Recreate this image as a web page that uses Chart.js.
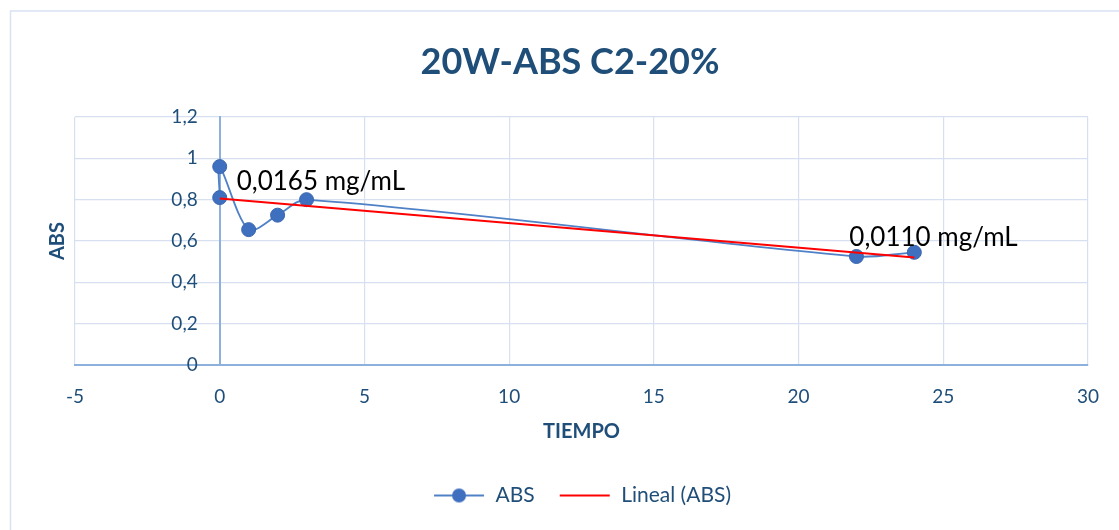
<!DOCTYPE html>
<html>
<head>
<meta charset="utf-8">
<script src="https://cdn.jsdelivr.net/npm/chart.js@4/dist/chart.umd.min.js"></script>
<style>
  html, body { margin: 0; padding: 0; background: #ffffff; }
  #wrap { width: 1119px; height: 530px; position: relative; }
</style>
</head>
<body>
<div id="wrap"><canvas id="c" width="1119" height="530"></canvas></div>
<script>
// ---- data ----
const tiempo = [0, 0, 1, 2, 3, 22, 24];
const abs = [0.81, 0.96, 0.655, 0.725, 0.80, 0.525, 0.545];
const pointLabels = ['0,0165 mg/mL', '', '', '', '', '', '0,0110 mg/mL'];
const xTicks = [-5, 0, 5, 10, 15, 20, 25, 30];
const xTickLabels = ['-5', '0', '5', '10', '15', '20', '25', '30'];
const yTicks = [0, 0.2, 0.4, 0.6, 0.8, 1.0, 1.2];
const yTickLabels = ['0', '0,2', '0,4', '0,6', '0,8', '1', '1,2'];
const chartTitle = '20W-ABS C2-20%';
const xTitle = 'TIEMPO';
const yTitle = 'ABS';
const seriesName = 'ABS';
const trendName = 'Lineal (ABS)';

// linear trendline (least squares over the series, like Excel "Lineal")
const n = tiempo.length;
const mx = tiempo.reduce((a, b) => a + b, 0) / n;
const my = abs.reduce((a, b) => a + b, 0) / n;
let sxy = 0, sxx = 0;
for (let i = 0; i < n; i++) { sxy += (tiempo[i] - mx) * (abs[i] - my); sxx += (tiempo[i] - mx) ** 2; }
const slope = sxy / sxx, intercept = my - slope * mx;
const trendX = [Math.min(...tiempo), Math.max(...tiempo)];
const trendY = trendX.map(x => intercept + slope * x);

const TXT = '#1F4E79';
const FONT = 'Lato, "Open Sans", sans-serif';
const GRID = '#d6e0f0';
const AXIS = '#8eb0dc';
const LINE = '#4f81c7';
const MARK = '#3f70bf';

// legend marker images
function legendImg(withDot, color) {
  const cv = document.createElement('canvas');
  cv.width = 52; cv.height = 16;
  const g = cv.getContext('2d');
  g.strokeStyle = color; g.lineWidth = withDot ? 1.8 : 2;
  g.beginPath(); g.moveTo(1, 8); g.lineTo(51, 8); g.stroke();
  if (withDot) { g.fillStyle = MARK; g.beginPath(); g.arc(26, 8, 7, 0, Math.PI * 2); g.fill(); }
  return cv;
}
const imgABS = legendImg(true, LINE);
const imgTrend = legendImg(false, '#ff0000');

const framePlugin = {
  id: 'frame',
  beforeDraw(chart) {
    const ctx = chart.ctx;
    ctx.save();
    ctx.fillStyle = '#fff'; ctx.fillRect(0, 0, chart.width, chart.height);
    ctx.strokeStyle = '#d9e2f3'; ctx.lineWidth = 1.5;
    ctx.strokeRect(10.5, 11, 1300, 700);
    ctx.restore();
  },
  afterDraw(chart) {
    const ctx = chart.ctx, ca = chart.chartArea;
    const ys = chart.scales.y, xs = chart.scales.x;
    ctx.save();
    ctx.fillStyle = TXT;
    // y tick labels, right-aligned next to the y axis (crossing at x = 0)
    ctx.font = '19px ' + FONT;
    ctx.textAlign = 'right'; ctx.textBaseline = 'middle';
    const ax = xs.getPixelForValue(0);
    yTicks.forEach((v, i) => ctx.fillText(yTickLabels[i], ax - 22, ys.getPixelForValue(v)));
    // titles
    ctx.textAlign = 'center';
    ctx.font = 'bold 36px ' + FONT;
    ctx.fillText(chartTitle, 570, 62);
    ctx.font = 'bold 20px ' + FONT;
    ctx.fillText(xTitle, (ca.left + ca.right) / 2, 432);
    ctx.translate(58, (ca.top + ca.bottom) / 2);
    ctx.rotate(-Math.PI / 2);
    ctx.fillText(yTitle, 0, 0);
    ctx.restore();
  },
  afterDatasetsDraw(chart) {
    const ctx = chart.ctx;
    const meta = chart.getDatasetMeta(0);
    ctx.save();
    ctx.fillStyle = '#000';
    ctx.font = '26px ' + FONT;
    ctx.textBaseline = 'middle';
    ctx.textAlign = 'left';
    pointLabels.forEach((t, i) => {
      if (!t) return;
      const p = meta.data[i];
      if (i === 0) ctx.fillText(t, p.x + 17, p.y - 16);
      else ctx.fillText(t, p.x - 65, p.y - 15);
    });
    ctx.restore();
  }
};

new Chart(document.getElementById('c'), {
  type: 'scatter',
  data: {
    datasets: [
      {
        label: seriesName,
        data: tiempo.map((x, i) => ({ x, y: abs[i] })),
        showLine: true,
        tension: 0.3,
        borderColor: LINE,
        borderWidth: 1.8,
        backgroundColor: MARK,
        pointBackgroundColor: MARK,
        pointBorderColor: '#3a66b0',
        pointBorderWidth: 1,
        pointRadius: 7,
        pointHoverRadius: 7,
        order: 2
      },
      {
        label: trendName,
        data: trendX.map((x, i) => ({ x, y: trendY[i] })),
        showLine: true,
        tension: 0,
        borderColor: '#ff0000',
        borderWidth: 2,
        pointRadius: 0,
        order: 1
      }
    ]
  },
  options: {
    responsive: false,
    animation: false,
    layout: { padding: { left: 75, right: 30, top: 117, bottom: 14 } },
    plugins: {
      title: { display: false },
      tooltip: { enabled: false },
      legend: {
        position: 'bottom',
        labels: {
          color: TXT,
          font: { family: FONT, size: 21 },
          usePointStyle: true,
          pointStyleWidth: 52,
          boxHeight: 16,
          padding: 24,
          generateLabels(chart) {
            return [
              { text: seriesName, pointStyle: imgABS, fillStyle: MARK, strokeStyle: LINE, lineWidth: 0, datasetIndex: 0, fontColor: TXT },
              { text: trendName, pointStyle: imgTrend, fillStyle: '#f00', strokeStyle: '#f00', lineWidth: 0, datasetIndex: 1, fontColor: TXT }
            ];
          }
        }
      }
    },
    scales: {
      x: {
        type: 'linear',
        min: -5, max: 30,
        afterBuildTicks(s) { s.ticks = xTicks.map(v => ({ value: v })); },
        afterFit(s) { s.height = 96; },
        ticks: {
          color: TXT, font: { family: FONT, size: 19 }, padding: 20,
          callback: (v) => xTickLabels[xTicks.indexOf(v)]
        },
        grid: { color: GRID, lineWidth: 1.2, drawTicks: false },
        border: { color: AXIS, width: 2 }
      },
      y: {
        type: 'linear',
        position: { x: 0 },
        min: 0, max: 1.2,
        afterBuildTicks(s) { s.ticks = yTicks.map(v => ({ value: v })); },
        ticks: { display: false },
        grid: { color: GRID, lineWidth: 1.2, drawTicks: false },
        border: { color: AXIS, width: 2 }
      }
    }
  },
  plugins: [framePlugin]
});
</script>
</body>
</html>
